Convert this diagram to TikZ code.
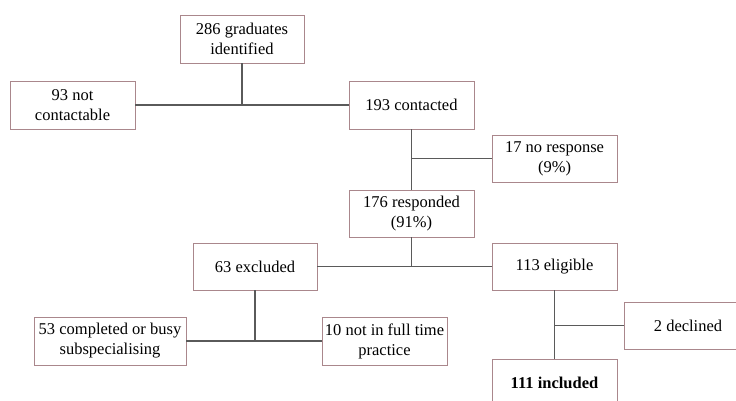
\documentclass[tikz,border=0pt]{standalone}
\usepackage{fontspec}
\setmainfont{Liberation Serif}
\usepackage{tikz}
\usepackage{xcolor}
\usetikzlibrary{positioning}

\definecolor{boxline}{RGB}{170,135,140}
\definecolor{link}{RGB}{90,90,90}

\begin{document}
\begin{tikzpicture}[x=1pt, y=-1pt,
        box/.style={rectangle, draw=boxline, line width=0.9pt, fill=white, align=center,
            minimum width=125pt, minimum height=48pt, inner sep=2pt,
            font=\fontsize{16.5}{20}\selectfont},
        link/.style={draw=link, line width=1.5pt}]
            \useasboundingbox (0, 0) rectangle (736, 401);
            \clip (0, 0) rectangle (736, 401);

            \node[box, minimum width=124pt] (id) at (242, 39) {286 graduates\\identified};
            \node[box] (nc) at (72.5, 105) {93 not\\contactable};
            \node[box] (co) at (411.5, 105) {193 contacted};
            \node[box, minimum height=47pt] (nr) at (554.5, 158.5) {17 no response\\(9\%)};
            \node[box, minimum height=47pt] (re) at (411.5, 213.5) {176 responded\\(91\%)};
            \node[box, minimum width=124pt, minimum height=47pt] (ex) at (255, 266.5) {63 excluded};
            \node[box, minimum height=47pt] (el) at (554.5, 266.5) {113 eligible};
            \node[box, minimum width=152pt] (cb) at (110, 341) {53 completed or busy\\subspecialising};
            \node[box] (ft) at (384.5, 341) {10 not in full time\\practice};
            \node[box, minimum width=128pt, minimum height=47pt] (de) at (688, 325.5) {2 declined};
            \node[box] (in) at (554.5, 383) {\bfseries 111 included};

            \draw[link] (nc) -- (co);
            \draw[link] (id) -- (id |- nc.east);
            \draw[link] (co) -- (re);
            \draw[link] (co.south |- nr.west) -- (nr);
            \draw[link] (ex) -- (el);
            \draw[link] (re) -- (re.south |- ex.east);
            \draw[link] (cb) -- (ft);
            \draw[link] (ex) -- (ex.south |- cb.east);
            \draw[link] (el) -- (in);
            \draw[link] (el.south |- de.west) -- (de);
        \end{tikzpicture}
\end{document}
